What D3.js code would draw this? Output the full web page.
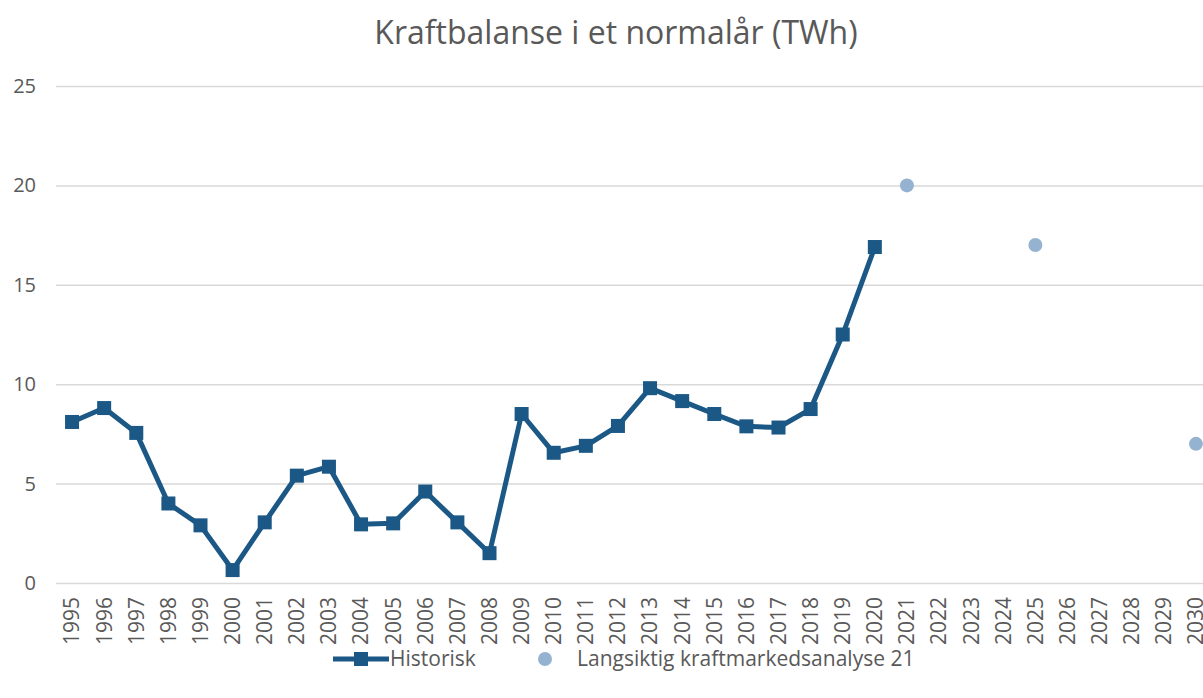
<!DOCTYPE html>
<html>
<head>
<meta charset="utf-8">
<script src="https://cdn.jsdelivr.net/npm/d3@7"></script>
<style>
  body { margin: 0; background: #fff; }
  svg { display: block; font-family: "Open Sans", sans-serif; }
</style>
</head>
<body>
<script>
// data
const years = d3.range(1995, 2031).map(String);
const histYears = d3.range(1995, 2021).map(String);
const histValues = [8.1, 8.8, 7.55, 4.0, 2.9, 0.65, 3.05, 5.4, 5.85, 2.95, 3.0, 4.6, 3.05, 1.5,
  8.5, 6.55, 6.9, 7.9, 9.8, 9.15, 8.5, 7.88, 7.82, 8.75, 12.5, 16.9];
const lkmYears = ["2021", "2025", "2030"];
const lkmValues = [20, 17, 7];
const yTicks = [0, 5, 10, 15, 20, 25];

const width = 1203, height = 698;
const plotLeft = 56, plotRight = 1212, plotTop = 86, plotBottom = 583;

const svg = d3.select("body").append("svg")
  .attr("width", width)
  .attr("height", height);

const x = d3.scaleBand().domain(years).range([plotLeft, plotRight]);
const y = d3.scaleLinear().domain([0, 25]).range([plotBottom, plotTop]);
const cx = d => x(d) + x.bandwidth() / 2;

svg.append("text")
  .attr("x", 616)
  .attr("y", 44)
  .attr("text-anchor", "middle")
  .attr("fill", "#595959")
  .attr("font-size", 32)
  .text("Kraftbalanse i et normalår (TWh)");

// y axis + gridlines
const yAxis = svg.append("g")
  .attr("transform", `translate(${plotLeft},0)`)
  .call(d3.axisLeft(y).tickValues(yTicks).tickSize(-(plotRight - plotLeft)).tickPadding(20));
yAxis.select(".domain").remove();
yAxis.selectAll("line").attr("stroke", "#d9d9d9").attr("stroke-width", 1.5);
yAxis.selectAll("text").attr("fill", "#595959").attr("font-size", 20).attr("font-family", "Open Sans");

// x axis
const xAxis = svg.append("g")
  .attr("transform", `translate(0,${plotBottom})`)
  .call(d3.axisBottom(x).tickSize(0));
xAxis.select(".domain").remove();
xAxis.selectAll("text")
  .attr("transform", "rotate(-90)")
  .attr("x", -14)
  .attr("y", 0)
  .attr("dy", "0.35em")
  .attr("text-anchor", "end")
  .attr("fill", "#595959")
  .attr("font-size", 21)
  .attr("font-family", "Open Sans");

const lineColor = "#1b5886";
const dotColor = "#95b3d1";

const hist = histYears.map((d, i) => ({ year: d, value: histValues[i] }));

svg.append("path")
  .datum(hist)
  .attr("fill", "none")
  .attr("stroke", lineColor)
  .attr("stroke-width", 5)
  .attr("stroke-linejoin", "round")
  .attr("d", d3.line().x(d => cx(d.year)).y(d => y(d.value)));

svg.selectAll("rect.hist")
  .data(hist)
  .enter()
  .append("rect")
  .attr("class", "hist")
  .attr("x", d => cx(d.year) - 7)
  .attr("y", d => y(d.value) - 7)
  .attr("width", 14)
  .attr("height", 14)
  .attr("fill", lineColor);

svg.selectAll("circle.lkm")
  .data(lkmYears.map((d, i) => ({ year: d, value: lkmValues[i] })))
  .enter()
  .append("circle")
  .attr("class", "lkm")
  .attr("cx", d => cx(d.year))
  .attr("cy", d => y(d.value))
  .attr("r", 7)
  .attr("fill", dotColor);

// legend
const lg = svg.append("g").attr("transform", "translate(0,659)");
lg.append("line").attr("x1", 333).attr("x2", 389).attr("stroke", lineColor).attr("stroke-width", 5);
lg.append("rect").attr("x", 354).attr("y", -7).attr("width", 14).attr("height", 14).attr("fill", lineColor);
lg.append("text").attr("x", 390).attr("dy", "0.35em").attr("fill", "#595959").attr("font-size", 21).text("Historisk");
lg.append("circle").attr("cx", 545).attr("r", 7).attr("fill", dotColor);
lg.append("text").attr("x", 577).attr("dy", "0.35em").attr("fill", "#595959").attr("font-size", 21).text("Langsiktig kraftmarkedsanalyse 21");
</script>
</body>
</html>
